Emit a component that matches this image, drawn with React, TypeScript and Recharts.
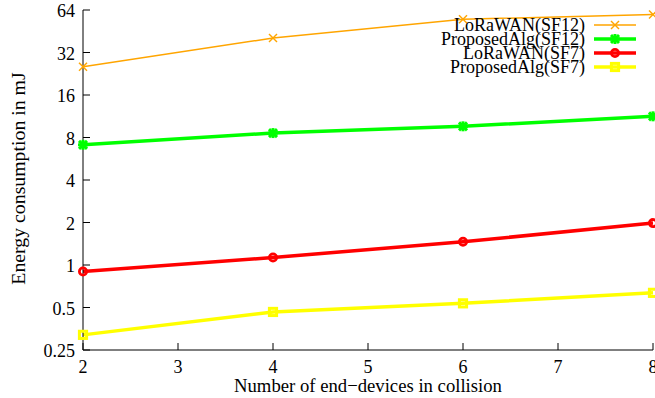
import React from 'react';
import { LineChart, Line, XAxis, YAxis } from 'recharts';

const xValues = [2, 4, 6, 8];
const loraSF12 = [25.4, 40.5, 55, 59.5];
const propSF12 = [7.1, 8.6, 9.6, 11.3];
const loraSF7 = [0.9, 1.13, 1.46, 1.98];
const propSF7 = [0.32, 0.465, 0.535, 0.635];
const xTicks = [2, 3, 4, 5, 6, 7, 8];
const yTicks = [0.25, 0.5, 1, 2, 4, 8, 16, 32, 64];

const series = [
  { key: 'loraSF12', name: 'LoRaWAN(SF12)', color: '#FFA500', width: 1.5, marker: 'x', values: loraSF12 },
  { key: 'propSF12', name: 'ProposedAlg(SF12)', color: '#00FF00', width: 3.5, marker: 'star', values: propSF12 },
  { key: 'loraSF7', name: 'LoRaWAN(SF7)', color: '#FF0000', width: 3.5, marker: 'circle', values: loraSF7 },
  { key: 'propSF7', name: 'ProposedAlg(SF7)', color: '#FFFF00', width: 3.5, marker: 'square', values: propSF7 },
];

const data = xValues.map((x, i) => {
  const row: any = { x };
  series.forEach((s) => {
    row[s.key] = s.values[i];
  });
  return row;
});

const FONT = '"Liberation Serif", "Times New Roman", serif';

function Marker({ kind, color, cx, cy }: { kind: string; color: string; cx: number; cy: number }) {
  if (cx == null || cy == null) return <g />;
  if (kind === 'x') {
    const d = 4;
    return (
      <g>
        <line x1={cx - d} y1={cy - d} x2={cx + d} y2={cy + d} stroke={color} strokeWidth={1.5} />
        <line x1={cx - d} y1={cy + d} x2={cx + d} y2={cy - d} stroke={color} strokeWidth={1.5} />
      </g>
    );
  }
  if (kind === 'star') {
    const d = 4;
    return (
      <g>
        <line x1={cx - d} y1={cy - d} x2={cx + d} y2={cy + d} stroke={color} strokeWidth={3} />
        <line x1={cx - d} y1={cy + d} x2={cx + d} y2={cy - d} stroke={color} strokeWidth={3} />
        <line x1={cx - d - 1} y1={cy} x2={cx + d + 1} y2={cy} stroke={color} strokeWidth={3} />
        <line x1={cx} y1={cy - d - 1} x2={cx} y2={cy + d + 1} stroke={color} strokeWidth={3} />
      </g>
    );
  }
  if (kind === 'circle') {
    return <circle cx={cx} cy={cy} r={3.6} fill="none" stroke={color} strokeWidth={2.8} />;
  }
  return <rect x={cx - 3.6} y={cy - 3.6} width={7.2} height={7.2} fill="none" stroke={color} strokeWidth={3} />;
}

const textStyle = { fontFamily: FONT, fontSize: 18, fill: '#000' };

function XTick(props: any) {
  const { x, y, payload } = props;
  return (
    <text x={x} y={y + 11} textAnchor="middle" style={textStyle}>
      {String(payload.value)}
    </text>
  );
}

function YTick(props: any) {
  const { x, y, payload } = props;
  return (
    <text x={x} y={y + 7} textAnchor="end" style={textStyle}>
      {String(payload.value)}
    </text>
  );
}

function YLabel(props: any) {
  const vb = props.viewBox || { x: 0, y: 0, width: 0, height: 0 };
  const cx = vb.x + 18;
  const cy = vb.y + vb.height / 2 - 1.5;
  return (
    <text x={cx} y={cy} transform={`rotate(-90 ${cx} ${cy})`} textAnchor="middle" dominantBaseline="central"
      style={{ fontFamily: FONT, fontSize: 19.8, fill: '#000' }}>
      Energy consumption in mJ
    </text>
  );
}

function XLabel(props: any) {
  const vb = props.viewBox || { x: 0, y: 0, width: 0, height: 0 };
  const cx = vb.x + vb.width / 2;
  return (
    <text x={cx} y={vb.y + 42} textAnchor="middle" style={{ fontFamily: FONT, fontSize: 18.7, fill: '#000' }}>
      Number of end−devices in collision
    </text>
  );
}

function LegendBox() {
  return (
    <div style={{ position: 'absolute', top: 18, right: 19, fontFamily: FONT, fontSize: 18, color: '#000' }}>
      {series.map((s) => (
        <div key={s.key} style={{ display: 'flex', justifyContent: 'flex-end', alignItems: 'center', height: 14, lineHeight: '14px' }}>
          <span style={{ whiteSpace: 'nowrap' }}>{s.name}</span>
          <svg width={42} height={14} style={{ marginLeft: 9, display: 'block', overflow: 'visible' }}>
            <line x1={0} y1={7} x2={42} y2={7} stroke={s.color} strokeWidth={s.width} />
            <Marker kind={s.marker} color={s.color} cx={21} cy={7} />
          </svg>
        </div>
      ))}
    </div>
  );
}

export default function App() {
  return (
    <div style={{ position: 'absolute', left: 0, top: 0, width: 655, height: 398, background: '#fff' }}>
      <LineChart width={655} height={398} data={data} margin={{ top: 10, right: 2, bottom: 0, left: 0 }}>
        <XAxis
          xAxisId="bottom"
          dataKey="x"
          type="number"
          domain={[2, 8]}
          ticks={xTicks}
          interval={0}
          height={48}
          stroke="#000"
          tickSize={-7}
          tickMargin={19}
          tick={<XTick />}
          label={<XLabel />}
        />
        <XAxis
          xAxisId="top"
          orientation="top"
          dataKey="x"
          type="number"
          domain={[2, 8]}
          ticks={xTicks}
          interval={0}
          height={0}
          stroke="#000"
          tickSize={-7}
          tick={false}
        />
        <YAxis
          yAxisId="left"
          scale="log"
          base={2}
          type="number"
          domain={[0.25, 64]}
          ticks={yTicks}
          interval={0}
          allowDataOverflow
          width={83}
          stroke="#000"
          tickSize={-7}
          tickMargin={15}
          tick={<YTick />}
          label={<YLabel />}
        />
        <YAxis
          yAxisId="right"
          orientation="right"
          scale="log"
          base={2}
          type="number"
          domain={[0.25, 64]}
          ticks={yTicks}
          interval={0}
          allowDataOverflow
          width={0}
          stroke="#000"
          tickSize={-7}
          tick={false}
        />
        {series.map((s) => (
          <Line
            key={s.key}
            xAxisId="bottom"
            yAxisId="left"
            dataKey={s.key}
            name={s.name}
            stroke={s.color}
            strokeWidth={s.width}
            isAnimationActive={false}
            dot={(p: any) => <Marker key={`${s.key}-${p.index}`} kind={s.marker} color={s.color} cx={p.cx} cy={p.cy} />}
            activeDot={false}
          />
        ))}
      </LineChart>
      <LegendBox />
    </div>
  );
}
